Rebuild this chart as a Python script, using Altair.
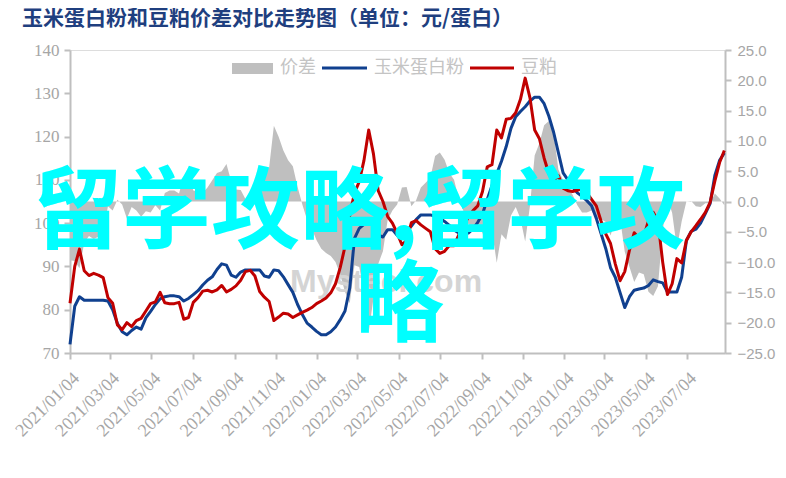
import altair as alt
import pandas as pd

title_text = "玉米蛋白粉和豆粕价差对比走势图（单位：元/蛋白）"
series_names = ["价差", "玉米蛋白粉", "豆粕"]
overlay_line1 = "留学攻略,留学攻"
overlay_line2 = "略"
watermark = "Mysteel.com"

tick_labels = ["2021/01/04", "2021/03/04", "2021/05/04", "2021/07/04", "2021/09/04", "2021/11/04",
               "2022/01/04", "2022/03/04", "2022/05/04", "2022/07/04", "2022/09/04", "2022/11/04",
               "2023/01/04", "2023/03/04", "2023/05/04", "2023/07/04"]
left_ticks = [70, 80, 90, 100, 110, 120, 130, 140]
right_ticks = [-25, -20, -15, -10, -5, 0, 5, 10, 15, 20, 25]

dates = [
    "2021-01-04", "2021-01-11", "2021-01-18", "2021-01-25", "2021-02-01", "2021-02-08", "2021-02-15", "2021-02-22",
    "2021-03-01", "2021-03-08", "2021-03-15", "2021-03-22", "2021-03-29", "2021-04-05", "2021-04-12", "2021-04-19",
    "2021-04-26", "2021-05-03", "2021-05-10", "2021-05-17", "2021-05-24", "2021-05-31", "2021-06-07", "2021-06-14",
    "2021-06-21", "2021-06-28", "2021-07-05", "2021-07-12", "2021-07-19", "2021-07-26", "2021-08-02", "2021-08-09",
    "2021-08-16", "2021-08-23", "2021-08-30", "2021-09-06", "2021-09-13", "2021-09-20", "2021-09-27", "2021-10-04",
    "2021-10-11", "2021-10-18", "2021-10-25", "2021-11-01", "2021-11-08", "2021-11-15", "2021-11-22", "2021-11-29",
    "2021-12-06", "2021-12-13", "2021-12-20", "2021-12-27",
    "2022-01-03", "2022-01-10", "2022-01-17", "2022-01-24", "2022-01-31", "2022-02-07", "2022-02-14", "2022-02-21",
    "2022-02-28", "2022-03-07", "2022-03-14", "2022-03-21", "2022-03-28", "2022-04-04", "2022-04-11", "2022-04-18",
    "2022-04-25", "2022-05-02", "2022-05-09", "2022-05-16", "2022-05-23", "2022-05-30", "2022-06-06", "2022-06-13",
    "2022-06-20", "2022-06-27", "2022-07-04", "2022-07-11", "2022-07-18", "2022-07-25", "2022-08-01", "2022-08-08",
    "2022-08-15", "2022-08-22", "2022-08-29", "2022-09-05", "2022-09-12", "2022-09-19", "2022-09-26", "2022-10-03",
    "2022-10-10", "2022-10-17", "2022-10-24", "2022-10-31", "2022-11-07", "2022-11-14", "2022-11-21", "2022-11-28",
    "2022-12-05", "2022-12-12", "2022-12-19", "2022-12-26",
    "2023-01-02", "2023-01-09", "2023-01-16", "2023-01-23", "2023-01-30", "2023-02-06", "2023-02-13", "2023-02-20",
    "2023-02-27", "2023-03-06", "2023-03-13", "2023-03-20", "2023-03-27", "2023-04-03", "2023-04-10", "2023-04-17",
    "2023-04-24", "2023-05-01", "2023-05-08", "2023-05-15", "2023-05-22", "2023-05-29", "2023-06-05", "2023-06-12",
    "2023-06-19", "2023-06-26", "2023-07-03", "2023-07-10", "2023-07-17", "2023-07-24", "2023-07-31", "2023-08-07",
    "2023-08-14", "2023-08-21", "2023-08-28",
]

corn = [
    72.0, 80.8, 83.0, 82.2, 82.2, 82.2, 82.2, 82.2, 82.0, 80.0,
    76.8, 74.9, 74.2, 75.2, 76.0, 75.5, 78.1, 79.6, 81.2, 82.5,
    83.0, 83.2, 83.2, 83.0, 82.0, 82.6, 83.5, 84.4, 85.7, 86.8,
    87.6, 89.3, 90.6, 90.3, 88.0, 87.5, 88.7, 89.2, 89.2, 89.2,
    89.2, 87.8, 87.5, 89.2, 89.0, 87.6, 85.8, 84.0, 81.2, 78.9,
    76.9, 76.0, 75.0, 74.2, 74.2, 74.9, 76.0, 77.7, 79.7, 85.0,
    96.5, 98.8, 99.7, 99.8, 100.0, 97.2, 96.8, 98.5, 98.5, 97.2,
    97.3, 98.4, 99.3, 100.8, 101.9, 101.9, 101.9, 101.6, 101.1, 100.4,
    99.5, 98.4, 97.7, 97.7, 97.7, 98.7, 100.2, 102.1, 105.5, 108.7,
    111.4, 114.3, 117.7, 121.9, 124.6, 125.8, 126.9, 128.2, 129.1, 129.1,
    127.6, 124.7, 121.0, 116.3, 111.6, 110.0, 108.4, 107.0, 106.2, 105.2,
    104.0, 101.1, 97.6, 94.1, 89.7, 87.5, 84.0, 80.5, 83.0, 84.5,
    84.8, 85.0, 85.6, 86.9, 86.5, 86.2, 84.1, 84.1, 84.1, 87.5,
    96.0, 98.1, 98.6, 100.0, 102.2, 104.5, 111.0, 114.5, 116.2,
]

soy = [
    81.5, 90.0, 94.0, 89.0, 87.9, 88.4, 88.0, 87.4, 82.8, 81.5,
    76.5, 75.4, 77.0, 76.1, 77.5, 78.0, 79.7, 81.4, 81.8, 84.0,
    81.6, 81.4, 81.4, 81.7, 77.8, 78.2, 81.7, 82.8, 84.3, 84.5,
    84.1, 84.6, 85.6, 84.1, 84.7, 85.5, 86.8, 88.8, 89.1, 87.8,
    84.2, 82.9, 81.9, 77.5, 78.3, 79.2, 79.0, 78.2, 78.8, 79.4,
    79.9, 80.5, 81.4, 82.0, 82.7, 83.9, 86.0, 89.8, 94.6, 101.8,
    107.0, 109.6, 114.5, 121.5, 116.0, 107.5, 105.0, 101.5, 100.0, 97.7,
    95.0, 96.0, 100.1, 100.6, 99.6, 98.8, 98.0, 94.1, 93.0, 93.5,
    94.8, 94.8, 97.3, 99.3, 101.4, 102.9, 104.0, 107.3, 113.0, 113.5,
    121.5, 119.7, 124.0, 124.2, 125.5, 128.6, 133.5, 129.0, 121.5, 119.5,
    115.0, 111.4, 109.7, 111.0, 108.1, 107.5, 107.3, 107.6, 108.0, 107.0,
    105.5, 104.0, 100.5, 97.5, 95.3, 90.6, 86.7, 88.8, 93.8, 97.8,
    96.5, 97.0, 100.5, 102.5, 100.5, 91.0, 83.5, 86.0, 91.8, 90.8,
    96.0, 98.0, 99.4, 100.9, 102.5, 104.8, 109.7, 114.0, 116.8,
]

spread = [
    -9.7, -9.8, -11.0, -6.8, -5.7, -6.2, -5.8, -5.2, -0.8, -1.5,
    0.3, -0.5, -2.8, -0.9, -1.5, -2.5, -1.6, -1.8, -0.6, -1.5,
    1.4, 1.8, 1.8, 1.3, 4.2, 4.4, 1.8, 1.6, 1.4, 2.3,
    3.5, 4.7, 5.0, 6.2, 3.3, 2.0, 1.9, 0.4, 0.1, 1.4,
    5.0, 4.9, 5.6, 12.5, 10.7, 8.4, 6.8, 5.8, 2.4, -0.5,
    -3.0, -4.5, -6.4, -7.8, -8.5, -9.0, -10.0, -12.1, -14.9, -16.8,
    -10.5, -10.8, -14.8, -21.5, -16.0, -10.3, -8.2, -3.0, -1.5, -0.5,
    2.3, 2.4, -0.8, 0.2, 2.3, 3.1, 3.9, 7.5, 8.1, 6.9,
    4.7, 3.6, 0.4, -1.6, -3.7, -4.2, -3.8, -5.2, -7.5, -4.8,
    -10.1, -5.4, -6.3, -2.3, -0.9, -2.8, -6.6, -0.8, 7.6, 9.6,
    12.6, 13.3, 11.3, 5.3, 3.5, 2.5, 1.1, -0.6, -1.8, -1.8,
    -1.5, -2.9, -2.9, -3.4, -5.6, -3.1, -2.7, -8.3, -10.8, -13.3,
    -11.7, -12.0, -14.9, -15.6, -14.0, -4.8, 0.6, -1.9, -7.7, -3.3,
    0.0, 0.1, -0.8, -0.9, -0.3, -0.3, 1.3, 0.5, -0.6,
]

df = pd.DataFrame({"date": dates, "corn": corn, "soy": soy, "spread": spread})
df["zero"] = 0.0

GRAY = "#bfbfbf"
LABEL = "#a6a6a6"
BLUE = "#10408f"
RED = "#c00000"


def dt(s):
    y, m, d = s.split("/")
    return alt.DateTime(year=int(y), month=int(m), date=int(d), utc=True)


x_enc = alt.X(
    "date:T",
    scale=alt.Scale(type="utc", domain=[dt("2021/01/04"), dt("2023/08/29")]),
    axis=alt.Axis(
        values=[dt(t) for t in tick_labels],
        labelExpr="utcFormat(datum.value, '%Y/%m/%d')",
        labelAngle=-45, labelAlign="right", labelBaseline="top", labelPadding=10,
        labelFont="Liberation Serif", labelFontSize=18, labelColor=LABEL,
        domainColor=GRAY, domainWidth=2, tickColor=GRAY, tickWidth=2, tickSize=6,
        grid=False, title=None, labelOverlap=False, labelBound=False, labelFlush=False,
    ),
)

left_scale = alt.Scale(domain=[70, 140], nice=False, zero=False)
right_scale = alt.Scale(domain=[-25, 25], nice=False, zero=False)

left_axis = alt.Axis(
    values=left_ticks, orient="left", labelFont="Liberation Serif", labelFontSize=17,
    labelColor=LABEL, domainColor=GRAY, domainWidth=2, tickColor=GRAY, tickWidth=2,
    tickSize=6, labelPadding=5, grid=False, title=None,
)
right_axis = alt.Axis(
    values=right_ticks, orient="right", format=".1f", labelFont="Liberation Sans",
    labelFontSize=15, labelColor=LABEL, domainColor=GRAY, domainWidth=2, tickColor=GRAY,
    tickWidth=2, tickSize=6, labelPadding=6, grid=False, title=None,
)

area = alt.Chart(df).mark_area(color=GRAY, opacity=1, interpolate="linear").encode(
    x=x_enc,
    y=alt.Y("spread:Q", scale=right_scale, axis=right_axis),
    y2="zero:Q",
)

blue_line = alt.Chart(df).mark_line(color=BLUE, strokeWidth=3, strokeJoin="round").encode(
    x=x_enc,
    y=alt.Y("corn:Q", scale=left_scale, axis=left_axis),
)
red_line = alt.Chart(df).mark_line(color=RED, strokeWidth=3, strokeJoin="round").encode(
    x=x_enc,
    y=alt.Y("soy:Q", scale=left_scale, axis=None),
)

one = pd.DataFrame({"k": [0]})

title_mark = alt.Chart(one).mark_text(
    align="left", baseline="middle", font="Noto Sans CJK SC", fontSize=21, fontWeight="bold",
    color="#1f3f7f",
).encode(x=alt.value(-48), y=alt.value(-31), text=alt.value(title_text))

leg_rect = alt.Chart(one).mark_rect(color=GRAY).encode(
    x=alt.value(162), x2=alt.value(203), y=alt.value(13), y2=alt.value(24)
)
leg_blue = alt.Chart(one).mark_rule(color=BLUE, strokeWidth=3).encode(
    x=alt.value(252), x2=alt.value(297), y=alt.value(18)
)
leg_red = alt.Chart(one).mark_rule(color=RED, strokeWidth=3).encode(
    x=alt.value(400), x2=alt.value(444), y=alt.value(18)
)
leg_style = dict(align="left", baseline="middle", font="Noto Sans CJK SC", fontSize=18, color="#c4c4c4")
leg_t1 = alt.Chart(one).mark_text(**leg_style).encode(x=alt.value(210), y=alt.value(18), text=alt.value(series_names[0]))
leg_t2 = alt.Chart(one).mark_text(**leg_style).encode(x=alt.value(304), y=alt.value(18), text=alt.value(series_names[1]))
leg_t3 = alt.Chart(one).mark_text(**leg_style).encode(x=alt.value(451), y=alt.value(18), text=alt.value(series_names[2]))

wm = alt.Chart(one).mark_text(
    align="left", baseline="alphabetic", font="Liberation Sans", fontSize=32, fontWeight="bold",
    color="#d4d4d4",
).encode(x=alt.value(220), y=alt.value(242), text=alt.value(watermark))

cyan_style = dict(align="left", baseline="alphabetic", font="Noto Sans CJK SC", fontSize=89,
                  fontWeight="bold", color="#00ffff")
cyan1 = alt.Chart(one).mark_text(**cyan_style).encode(x=alt.value(-37), y=alt.value(191), text=alt.value(overlay_line1))
cyan2 = alt.Chart(one).mark_text(**cyan_style).encode(x=alt.value(285), y=alt.value(284), text=alt.value(overlay_line2))

chart = alt.layer(
    area, wm, blue_line, red_line, title_mark, leg_rect, leg_blue, leg_red, leg_t1, leg_t2, leg_t3, cyan1, cyan2
).resolve_scale(y="independent").properties(
    width=655, height=303,
    autosize=alt.AutoSizeParams(type="none"),
    padding={"left": 62, "top": 42, "right": 53, "bottom": 117},
).configure_view(stroke=None).configure(background="white")

chart.save("out.html", embed_options={"renderer": "svg", "actions": False})
